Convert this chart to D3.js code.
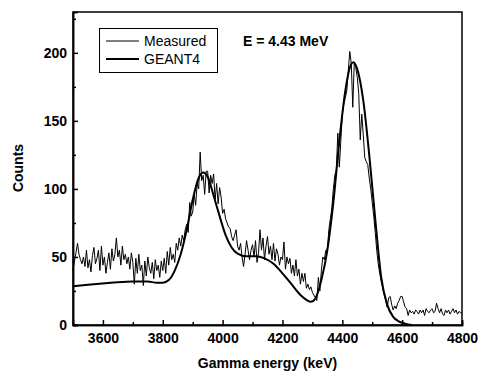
<!DOCTYPE html>
<html>
<head>
<meta charset="utf-8">
<script src="https://cdn.jsdelivr.net/npm/d3@7"></script>
<style>
  body { margin: 0; background: #fff; }
  svg { display: block; font-family: "Liberation Sans", Arial, sans-serif; }
  .axis path, .axis line { stroke: #000; stroke-width: 1.5; }
  .axis text { font-size: 14px; font-weight: bold; fill: #000; }
</style>
</head>
<body>
<div id="chart"></div>
<script>
// measured spectrum, 5 keV bins from 3500 to 4800 keV
const measuredStart = 3500;
const measuredStep = 5;
const measured = [
  40, 47, 53, 60, 52, 48, 45, 50, 43, 55,
  42, 48, 39, 51, 57, 45, 49, 55, 40, 58,
  44, 50, 38, 46, 53, 41, 56, 47, 52, 64,
  50, 55, 44, 58, 48, 52, 45, 50, 41, 53,
  46, 30, 49, 38, 52, 40, 44, 29, 47, 36,
  50, 42, 38, 46, 34, 48, 40, 44, 35, 47,
  40, 49, 38, 54, 44, 57, 48, 52, 46, 60,
  55, 64, 58, 66, 62, 70, 74, 68, 90, 80,
  83, 96, 88, 104, 100, 127, 106, 110, 96, 113,
  113, 97, 110, 104, 111, 92, 104, 89, 101, 94,
  82, 85, 78, 75, 72, 71, 65, 62, 66, 70,
  58, 55, 60, 50, 43, 52, 62, 55, 48, 55,
  59, 50, 62, 46, 53, 70, 55, 64, 48, 58,
  65, 52, 58, 48, 60, 47, 56, 52, 44, 50,
  48, 61, 41, 50, 45, 49, 38, 44, 36, 48,
  36, 41, 30, 38, 32, 38, 27, 30, 26, 28,
  24, 22, 20, 18, 35, 25, 40, 50, 48, 55,
  55, 70, 78, 86, 100, 110, 114, 141, 116, 135,
  155, 162, 167, 172, 187, 201, 192, 160, 193, 189,
  182, 170, 136, 155, 140, 123, 120, 118, 108, 100,
  90, 80, 68, 55, 45, 38, 32, 27, 22, 18,
  13, 20, 21, 15, 11, 14, 12, 16, 18, 21,
  21, 17, 13, 12, 7, 11, 9, 10, 8, 11,
  10, 8, 11, 9, 11, 7, 12, 10, 9, 11,
  12, 9, 10, 16, 12, 9, 12, 8, 7, 11,
  9, 11, 8, 10, 12, 9, 11, 8, 10, 9,
  9
];

// GEANT4 simulation
const geantEnergy = [3500, 3550, 3600, 3650, 3700, 3750, 3780, 3800, 3820, 3840, 3860, 3880,
  3900, 3920, 3935, 3950, 3970, 3990, 4010, 4030, 4050, 4080, 4110, 4140, 4170, 4200,
  4230, 4260, 4280, 4295, 4310, 4330, 4350, 4370, 4390, 4410, 4425, 4437, 4450, 4470,
  4490, 4510, 4530, 4550, 4570, 4590, 4610, 4633];
const geantCounts = [28.5, 29.5, 30.5, 31.5, 32, 32, 31, 31, 33, 40, 52, 70,
  92, 108, 112, 109, 95, 80, 66, 57, 52.5, 50.5, 50.5, 49, 45, 38,
  30, 22, 18.5, 17, 19.5, 33, 55, 90, 135, 172, 189, 193, 188, 165,
  125, 78, 35, 15, 6, 2.5, 1, 0];

const xTicks = [3600, 3800, 4000, 4200, 4400, 4600, 4800];
const xMinor = [3700, 3900, 4100, 4300, 4500, 4700];
const yTicks = [0, 50, 100, 150, 200];
const yMinor = [25, 75, 125, 175, 225];

const W = 479, H = 372;
const margin = {top: 12, right: 17, bottom: 47, left: 73};
const width = W - margin.left - margin.right;
const height = H - margin.top - margin.bottom;

const svg = d3.select("#chart").append("svg")
  .attr("width", W)
  .attr("height", H);

const g = svg.append("g")
  .attr("transform", `translate(${margin.left},${margin.top})`);

const x = d3.scaleLinear().domain([3500, 4800]).range([0, width]);
const y = d3.scaleLinear().domain([0, 230]).range([height, 0]);

// axes, ticks pointing inward
g.append("g").attr("class", "axis")
  .attr("transform", `translate(0,${height})`)
  .call(d3.axisBottom(x).tickValues(xTicks).tickSize(-5).tickPadding(8).tickFormat(d3.format("d")));
g.append("g").attr("class", "axis")
  .attr("transform", `translate(0,${height})`)
  .call(d3.axisBottom(x).tickValues(xMinor).tickSize(-3).tickFormat(""));
g.append("g").attr("class", "axis")
  .call(d3.axisLeft(y).tickValues(yTicks).tickSize(-5).tickPadding(6));
g.append("g").attr("class", "axis")
  .call(d3.axisLeft(y).tickValues(yMinor).tickSize(-3).tickFormat(""));

// frame
g.append("rect")
  .attr("width", width)
  .attr("height", height)
  .attr("fill", "none")
  .attr("stroke", "#000")
  .attr("stroke-width", 1.5);

const measuredData = measured.map((v, i) => [measuredStart + i * measuredStep, v]);
const geantData = geantEnergy.map((e, i) => [e, geantCounts[i]]);

g.append("path")
  .datum(measuredData)
  .attr("fill", "none")
  .attr("stroke", "#000")
  .attr("stroke-width", 1)
  .attr("d", d3.line().x(d => x(d[0])).y(d => y(d[1])));

g.append("path")
  .datum(geantData)
  .attr("fill", "none")
  .attr("stroke", "#000")
  .attr("stroke-width", 2)
  .attr("d", d3.line().curve(d3.curveMonotoneX).x(d => x(d[0])).y(d => y(d[1])));

// legend
const legend = svg.append("g");
legend.append("rect")
  .attr("x", 99.5).attr("y", 28.5)
  .attr("width", 118).attr("height", 44)
  .attr("fill", "#fff")
  .attr("stroke", "#000")
  .attr("stroke-width", 1);
legend.append("line")
  .attr("x1", 106).attr("x2", 139).attr("y1", 41).attr("y2", 41)
  .attr("stroke", "#000").attr("stroke-width", 1);
legend.append("line")
  .attr("x1", 106).attr("x2", 139).attr("y1", 59).attr("y2", 59)
  .attr("stroke", "#000").attr("stroke-width", 2);
legend.append("text")
  .attr("x", 144).attr("y", 46)
  .attr("font-size", "14px")
  .text("Measured");
legend.append("text")
  .attr("x", 144).attr("y", 64)
  .attr("font-size", "14px")
  .text("GEANT4");

svg.append("text")
  .attr("x", 243).attr("y", 46)
  .attr("font-size", "14px")
  .attr("font-weight", "bold")
  .text("E = 4.43 MeV");

// axis titles
svg.append("text")
  .attr("x", margin.left + width / 2).attr("y", 368)
  .attr("text-anchor", "middle")
  .attr("font-size", "14px")
  .attr("font-weight", "bold")
  .text("Gamma energy (keV)");

svg.append("text")
  .attr("transform", "translate(23,168) rotate(-90)")
  .attr("text-anchor", "middle")
  .attr("font-size", "14px")
  .attr("font-weight", "bold")
  .text("Counts");
</script>
</body>
</html>
